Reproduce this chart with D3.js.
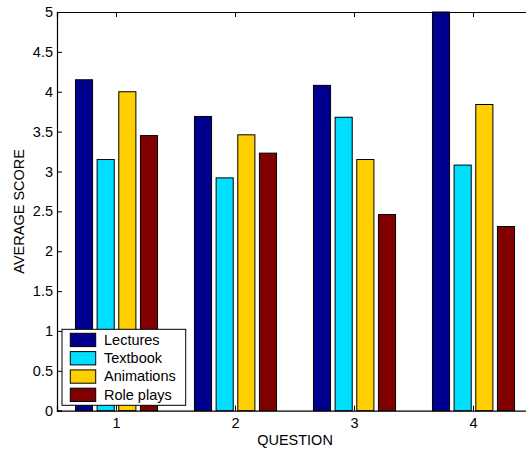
<!DOCTYPE html>
<html>
<head>
<meta charset="utf-8">
<script src="https://cdn.jsdelivr.net/npm/d3@7"></script>
<style>
  body { margin: 0; background: #fff; }
  text { font-family: "Liberation Sans", Arial, Helvetica, sans-serif; fill: #000; }
</style>
</head>
<body>
<svg id="chart" width="526" height="450"></svg>
<script>
const questions = ["1", "2", "3", "4"];
const series = ["Lectures", "Textbook", "Animations", "Role plays"];
const lectures  = [4.15, 3.69, 4.08, 5.00];
const textbook  = [3.15, 2.92, 3.68, 3.08];
const animations = [4.00, 3.46, 3.15, 3.84];
const roleplays = [3.45, 3.23, 2.46, 2.31];
const colors = ["#00008F", "#00DFFF", "#FFCF00", "#800000"];
const yTicks = [0, 0.5, 1, 1.5, 2, 2.5, 3, 3.5, 4, 4.5, 5];

const values = [lectures, textbook, animations, roleplays];
const svg = d3.select("#chart");
const L = 57, R = 533, T = 12, B = 410.7;

const x = d3.scaleBand().domain(questions).range([L, R]);
const step = x.step();
const x1 = d3.scaleBand().domain(series)
  .range([-0.364 * step, 0.364 * step]).paddingInner(0.21).paddingOuter(0.105);
const y = d3.scaleLinear().domain([0, 5]).range([B, T]);

// bars
series.forEach((s, si) => {
  svg.append("g").selectAll("rect").data(questions).join("rect")
    .attr("x", q => x(q) + step / 2 + x1(s))
    .attr("width", x1.bandwidth())
    .attr("y", (q, i) => y(values[si][i]))
    .attr("height", (q, i) => B - y(values[si][i]))
    .attr("fill", colors[si])
    .attr("stroke", "#000")
    .attr("stroke-width", 1);
});

// axes
const fs = "14.5px";
const yAxis = d3.axisLeft(y).tickValues(yTicks).tickSize(-5).tickPadding(4)
  .tickFormat(d => d3.format("")(d));
const gy = svg.append("g").attr("transform", `translate(${L},0)`).call(yAxis);
gy.selectAll("text").style("font-size", fs);

const xAxis = d3.axisBottom(x).tickSize(-5).tickPadding(7);
const gx = svg.append("g").attr("transform", `translate(0,${B})`).call(xAxis);
gx.selectAll("text").style("font-size", fs);

const xTop = d3.axisTop(x).tickSize(-5).tickFormat("");
svg.append("g").attr("transform", `translate(0,${T})`).call(xTop);

svg.selectAll(".domain").attr("stroke", "#000").attr("stroke-width", 1.2);
svg.selectAll(".tick line").attr("stroke", "#000");

// axis titles
svg.append("text").attr("x", (L + R) / 2).attr("y", 445)
  .attr("text-anchor", "middle").style("font-size", fs).text("QUESTION");
svg.append("text").attr("transform", `translate(24,${(T + B) / 2}) rotate(-90)`)
  .attr("text-anchor", "middle").style("font-size", fs).text("AVERAGE SCORE");

// legend
const lg = svg.append("g");
lg.append("rect").attr("x", 62).attr("y", 329.3).attr("width", 123.7).attr("height", 76)
  .attr("fill", "#fff").attr("stroke", "#000").attr("stroke-width", 1);
series.forEach((s, i) => {
  const yy = 333.3 + i * 18.3;
  lg.append("rect").attr("x", 70.3).attr("y", yy).attr("width", 25.4).attr("height", 13.3)
    .attr("fill", colors[i]).attr("stroke", "#000");
  lg.append("text").attr("x", 104).attr("y", yy + 11.5).style("font-size", fs).text(s);
});
</script>
</body>
</html>
